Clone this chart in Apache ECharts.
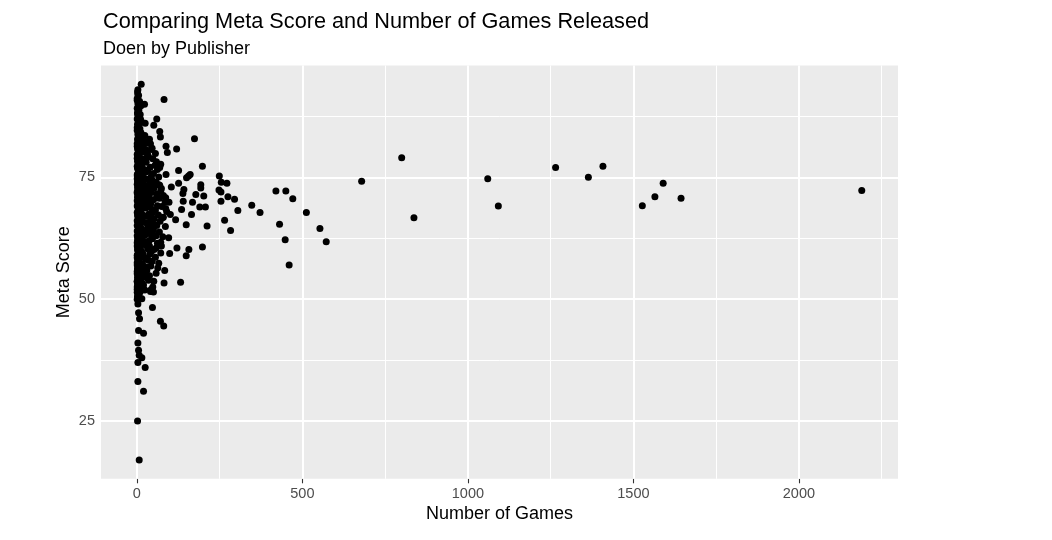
<!DOCTYPE html>
<html><head><meta charset="utf-8">
<script src="https://cdn.jsdelivr.net/npm/echarts@6/dist/echarts.min.js"></script>
<style>html,body{margin:0;padding:0;background:#fff}#chart{width:1052px;height:540px}</style>
</head><body><div id="chart"></div>
<script>
const chartTitle = 'Comparing Meta Score and Number of Games Released';
const chartSubtitle = 'Doen by Publisher';
const xAxisTitle = 'Number of Games';
const yAxisTitle = 'Meta Score';
const xTicks = [0, 500, 1000, 1500, 2000];
const xMinorTicks = [250, 750, 1250, 1750, 2250];
const yTicks = [25, 50, 75];
const yMinorTicks = [37.5, 62.5, 87.5];

// [number of games, meta score]
const farPublishers = [
  [2190,72.3],[1644,70.7],[1590,73.8],[1565,71.0],[1527,69.2],[1408,77.3],[1364,75.0],[1265,77.0],
  [1092,69.1],[1060,74.7],[837,66.7],[800,79.0],[679,74.2],[572,61.8],[553,64.5],[512,67.8],
  [471,70.6],[460,57.0],[450,72.2],[448,62.2],[431,65.4],[420,72.2],[372,67.8],[347,69.3],
  [305,68.2],[295,70.5],[283,64.1],[275,71.0],[272,73.8],[265,66.2],[255,74.0],[254,72.0],
  [254,70.1],[249,75.3],[248,72.4],[212,65.0],[207,68.9],[202,71.2],[198,77.3],[198,60.7]
];
const midPublishers = [
  [193,73.5],[193,72.8],[190,68.9],[174,82.9],[178,71.5],[168,69.9],[165,67.4],[161,75.6],[157,60.2],
  [156,75.3],[150,74.9],[149,65.3],[149,58.9],[142,72.5],[140,70.1],[139,71.7],[135,68.4],[132,53.5],
  [126,76.4],[126,73.8],[121,60.5],[120,80.8],[117,66.3],[104,73.0],[101,67.4],[99,59.4],[97,69.9],
  [96,62.6],[92,80.1],[88,81.4],[88,75.6],[87,70.8],[87,68.6],[84,55.9],[82,91.0],[82,53.3],[81,44.5],
  [77,66.7],[74,72.7],[74,60.9],[72,77.7],[72,61.7],[72,59.5],[71,83.3],[71,45.5],[69,84.4],[69,77.0],
  [69,73.4],[66,75.1],[63,56.4],[60,87.0],[60,70.8],[59,78.2],[51,85.7],[51,53.7],[50,51.5],[48,73.2],
  [47,68.4],[47,48.3],[43,80.7],[43,75.1],[43,52.0],[41,81.9],[41,51.6],[33,79.6],[33,65.2],[33,60.4],
  [29,82.0],[25,86.1],[23,90.0],[23,63.1]
];
const lowPublishers = [
  [25,36.0],[20,43.0],[20,31.1],[15,50.1],[15,38.0],[13,94.1],[8,51.3],[8,46.0],[7,17.0],[7,38.5],
  [5,47.2],[5,43.6],[5,39.5],[3,93.0],[3,49.0],[3,41.0],[3,37.0],[3,33.1],[2,25.0]
];
const columnPublishers = [
  [2,92.5],[5,91.8],[1,91.2],[8,90.6],[3,90.1],[12,89.7],[1,89.2],[6,88.8],[2,88.3],[10,87.9],[4,87.5],
  [1,87.0],[7,86.6],[15,86.3],[2,85.9],[5,85.4],[9,85.0],[1,84.6],[12,84.2],[3,83.8],[6,83.4],[18,83.1],
  [2,82.7],[8,82.3],[1,81.9],[4,81.6],[11,81.2],[2,80.8],[6,80.4],[14,80.1],[1,79.7],[3,79.4],[8,79.0],
  [20,78.7],[2,78.3],[5,78.0],[10,77.6],[1,77.3],[16,77.0],[3,76.7],[7,76.3],[24,76.0],[2,75.7],[12,75.4],
  [5,75.0],[1,74.7],[9,74.4],[18,74.1],[3,73.8],[6,73.5],[28,73.2],[2,72.9],[14,72.6],[4,72.3],[1,72.0],
  [10,71.7],[22,71.4],[3,71.1],[7,70.8],[32,70.5],[1,70.2],[16,69.9],[5,69.6],[2,69.3],[12,69.0],[26,68.7],
  [4,68.4],[8,68.1],[1,67.8],[36,67.5],[19,67.2],[3,66.9],[6,66.6],[13,66.3],[2,66.0],[30,65.7],[9,65.4],
  [1,65.1],[40,64.8],[5,64.5],[17,64.2],[3,63.9],[11,63.6],[27,63.3],[1,63.0],[7,62.7],[44,62.4],[2,62.1],
  [15,61.8],[4,61.5],[22,61.2],[1,60.9],[9,60.6],[35,60.3],[3,60.0],[6,59.7],[18,59.4],[2,59.1],[12,58.8],
  [1,58.5],[28,58.2],[5,57.9],[3,57.6],[14,57.3],[1,57.0],[8,56.7],[20,56.4],[2,56.1],[4,55.8],[11,55.5],
  [1,55.2],[6,54.9],[25,54.6],[3,54.3],[9,54.0],[1,53.7],[15,53.4],[2,53.1],[5,52.8],[1,52.5],[10,52.2],
  [3,51.9],[1,51.4],[6,50.8],[2,50.4],
  [3,92.0],[1,90.8],[7,89.5],[2,88.0],[11,86.9],[4,86.0],[1,85.2],[8,84.8],[3,83.0],[13,82.5],[1,81.4],
  [6,80.9],[22,80.3],[3,79.9],[1,78.9],[9,78.5],[4,77.9],[14,77.4],[2,76.9],[25,76.5],[6,76.1],[1,75.5],
  [17,75.2],[4,74.9],[30,74.6],[2,74.2],[10,73.9],[1,73.6],[21,73.3],[5,73.0],[38,72.7],[3,72.4],[13,72.1],
  [1,71.8],[26,71.5],[6,71.2],[2,70.9],[19,70.6],[46,70.3],[4,70.0],[9,69.7],[31,69.4],[1,69.1],[23,68.8],
  [6,68.5],[52,68.2],[3,67.9],[14,67.6],[2,67.3],[28,67.0],[8,66.7],[42,66.4],[1,66.1],[20,65.8],[5,65.5],
  [55,65.2],[3,64.9],[12,64.6],[33,64.3],[1,64.0],[24,63.7],[7,63.4],[48,63.1],[2,62.8],[16,62.5],[4,62.2],
  [36,61.9],[1,61.6],[10,61.3],[29,61.0],[3,60.7],[58,60.5],[2,60.2],[14,59.9],[5,59.6],[39,59.3],[1,59.0],
  [21,58.7],[8,58.4],[3,58.1],[46,57.8],[1,57.5],[17,57.2],[4,56.9],[30,56.6],[2,56.3],[12,56.0],[1,55.7],
  [23,55.4],[5,55.1],[38,54.8],[2,54.5],[13,54.2],[4,53.9],[1,53.6],[7,53.3],[20,52.9],[3,52.6],[1,52.0],
  [11,51.7],[4,51.1],[2,50.6],[1,50.0],
  [35,79.2],[48,78.8],[28,78.1],[55,77.5],[40,77.1],[62,76.6],[33,76.2],[50,75.8],[45,74.5],[58,74.0],
  [38,73.7],[66,73.5],[52,72.8],[30,72.5],[72,72.2],[44,71.9],[60,71.6],[80,71.3],[36,71.0],[68,70.7],
  [50,70.4],[85,70.0],[42,69.6],[62,69.2],[75,69.0],[34,68.9],[56,68.3],[90,68.0],[46,67.7],[65,67.3],
  [38,67.0],[80,66.8],[52,66.5],[70,66.0],[44,65.6],[60,65.1],[33,64.7],[86,64.9],[50,64.2],[68,63.8],
  [40,63.5],[58,63.0],[78,62.8],[47,62.4],[30,61.8],[62,61.5],[38,60.9],[52,60.2],[44,59.8],[56,58.6],
  [36,58.0],[66,57.4],[42,56.8],[30,55.9],[58,55.3],[26,54.8],[35,53.9],[48,52.5],[24,51.9],
  [24,83.6],[38,82.8],[20,81.7],[46,81.0],[28,80.6],[56,79.9],[32,79.4]
];

const allPoints = farPublishers.concat(midPublishers, columnPublishers, lowPublishers);
const xs = allPoints.map(p => p[0]);
const ys = allPoints.map(p => p[1]);
const xLo = Math.min(...xs), xHi = Math.max(...xs);
const yLo = Math.min(...ys), yHi = Math.max(...ys);
const xPad = 0.05 * (xHi - xLo), yPad = 0.05 * (yHi - yLo);

const FONT = 'Liberation Sans, Arial, sans-serif';
const gridLines = []
  .concat(xMinorTicks.map(v => ({ xAxis: v, lineStyle: { width: 1 } })))
  .concat(yMinorTicks.map(v => ({ yAxis: v, lineStyle: { width: 1 } })))
  .concat(xTicks.map(v => ({ xAxis: v, lineStyle: { width: 2 } })))
  .concat(yTicks.map(v => ({ yAxis: v, lineStyle: { width: 2 } })));

const chart = echarts.init(document.getElementById('chart'), null, { renderer: 'canvas' });
chart.setOption({
  animation: false,
  backgroundColor: '#ffffff',
  title: [
    { text: chartTitle, left: 103, top: 11, padding: 0, textStyle: { fontFamily: FONT, fontSize: 21.7, fontWeight: 'normal', color: '#000' } },
    { text: chartSubtitle, left: 103, top: 40, padding: 0, textStyle: { fontFamily: FONT, fontSize: 18, fontWeight: 'normal', color: '#000' } }
  ],
  grid: { left: 101, right: 154, top: 65.5, bottom: 61.2, show: true, backgroundColor: '#EBEBEB', borderWidth: 0 },
  xAxis: {
    type: 'value', min: xLo - xPad, max: xHi + xPad,
    axisLine: { show: false },
    axisTick: { show: true, customValues: xTicks, length: 4.5, lineStyle: { color: '#333333', width: 1.1 } },
    axisLabel: { customValues: xTicks, formatter: v => String(v), color: '#4D4D4D', fontSize: 14.5, fontFamily: FONT, margin: 8 },
    splitLine: { show: false },
    name: xAxisTitle, nameLocation: 'middle', nameGap: 26, nameMoveOverlap: false,
    nameTextStyle: { fontFamily: FONT, fontSize: 18, color: '#000' }
  },
  yAxis: {
    type: 'value', min: yLo - yPad, max: yHi + yPad,
    axisLine: { show: false },
    axisTick: { show: true, customValues: yTicks, length: 4.5, lineStyle: { color: '#333333', width: 1.1 } },
    axisLabel: { customValues: yTicks, formatter: v => String(v), color: '#4D4D4D', fontSize: 14.5, fontFamily: FONT, margin: 6 },
    splitLine: { show: false },
    name: yAxisTitle, nameLocation: 'middle', nameGap: 28, nameRotate: 90, nameMoveOverlap: false,
    nameTextStyle: { fontFamily: FONT, fontSize: 18, color: '#000' }
  },
  series: [
    {
      type: 'scatter', data: [], z: 1, silent: true,
      markLine: {
        z: 1, silent: true, symbol: ['none', 'none'], label: { show: false }, animation: false,
        lineStyle: { color: '#ffffff', type: 'solid' },
        emphasis: { disabled: true },
        data: gridLines
      }
    },
    {
      type: 'scatter', data: allPoints, z: 3, symbolSize: 7,
      itemStyle: { color: '#000000', opacity: 1 }
    }
  ]
});
</script>
</body></html>
